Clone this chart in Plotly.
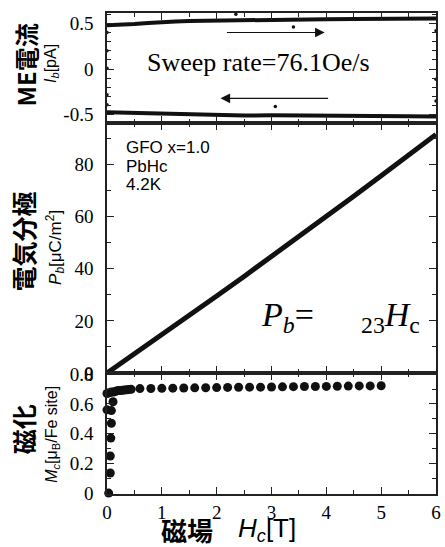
import plotly.graph_objects as go
from plotly.subplots import make_subplots

# ---- ME current I_b [pA] vs H_c [T] ----
h_sweep = [0.0, 0.25, 0.5, 0.75, 1.0, 1.25, 1.5, 2.0, 2.5, 3.0, 3.5, 4.0, 4.5, 5.0, 5.5, 6.0]
i_up = [0.478, 0.482, 0.492, 0.503, 0.514, 0.520, 0.525, 0.531, 0.536, 0.540, 0.543, 0.546, 0.548, 0.550, 0.551, 0.552]
i_down = [-0.473, -0.476, -0.480, -0.484, -0.488, -0.493, -0.499, -0.508, -0.507, -0.505, -0.509, -0.514, -0.515, -0.516, -0.516, -0.517]
h_stray = [2.35, 3.40, 3.07, 0.0, 0.0, 0.0, 0.0, 0.0, 6.0, 6.0, 6.0]
i_stray = [0.60, 0.46, -0.41, 0.40, 0.20, 0.01, -0.28, -0.39, 0.42, -0.11, -0.35]

# ---- Polarization P_b [uC/m^2] ----
h_pol = [0.0, 0.5, 1.0, 1.5, 2.0, 2.5, 3.0, 3.5, 4.0, 4.5, 5.0, 5.5, 6.0]
p_pol = [0.0, 7.28, 14.63, 22.03, 29.5, 37.03, 44.63, 52.28, 60.0, 67.78, 75.63, 83.53, 91.5]

# ---- Magnetization M_c [muB / Fe site] ----
h_mag = [0.03, 0.06, 0.06, 0.07, 0.08, 0.08, 0.0, 0.11,
         0.0, 0.04, 0.08, 0.12, 0.16, 0.20, 0.24, 0.28, 0.32, 0.36, 0.40, 0.44,
         0.6, 0.8, 1.0, 1.2, 1.4, 1.6, 1.8, 2.0, 2.2, 2.4, 2.6, 2.8, 3.0, 3.2,
         3.4, 3.6, 3.8, 4.0, 4.2, 4.4, 4.6, 4.8, 5.0]
m_mag = [0.0, 0.135, 0.25, 0.37, 0.47, 0.555, 0.56, 0.615,
         0.67, 0.675, 0.68, 0.68, 0.685, 0.69, 0.69, 0.692, 0.694, 0.695, 0.697, 0.698,
         0.703, 0.704, 0.705, 0.706, 0.707, 0.708, 0.709, 0.710, 0.711, 0.712, 0.713,
         0.713, 0.714, 0.715, 0.716, 0.717, 0.717, 0.718, 0.719, 0.720, 0.721, 0.721, 0.722]

x_ticks = [0, 1, 2, 3, 4, 5, 6]
i_ticks = [-0.5, 0, 0.5]
i_ticktext = ["-0.5", "0", "0.5"]
p_ticks = [0, 20, 40, 60, 80]
m_ticks = [0, 0.2, 0.4, 0.6, 0.8]
m_ticktext = ["0", "0.2", "0.4", "0.6", "0.8"]

W, H = 445, 547
ML, MR, MT, MB = 107, 4, 5, 53
PW, PH = W - ML - MR, H - MT - MB

fig = make_subplots(rows=3, cols=1, shared_xaxes=True, vertical_spacing=0,
                    row_heights=[112, 254, 123])

ink = "#111111"
fig.add_trace(go.Scatter(x=h_sweep, y=i_up, mode="lines",
                         line=dict(color=ink, width=4), cliponaxis=False), row=1, col=1)
fig.add_trace(go.Scatter(x=h_sweep, y=i_down, mode="lines",
                         line=dict(color=ink, width=4), cliponaxis=False), row=1, col=1)
fig.add_trace(go.Scatter(x=h_stray, y=i_stray, mode="markers",
                         marker=dict(color=ink, size=3.5), cliponaxis=False), row=1, col=1)
fig.add_trace(go.Scatter(x=h_pol, y=p_pol, mode="lines",
                         line=dict(color=ink, width=5), cliponaxis=False), row=2, col=1)
fig.add_trace(go.Scatter(x=h_mag, y=m_mag, mode="markers",
                         marker=dict(color=ink, size=9), cliponaxis=False), row=3, col=1)

serif = "Liberation Serif"
sans = "Liberation Sans"
cjk = "Noto Sans CJK JP"

axis_common = dict(showline=True, linecolor="#222222", linewidth=1.5, mirror="ticks",
                   ticks="inside", ticklen=7, tickwidth=1.2, tickcolor="#222222",
                   showgrid=False, zeroline=False,
                   tickfont=dict(family=serif, size=19, color="black"))

for r in (1, 2, 3):
    fig.update_xaxes(range=[0, 6], tickvals=x_ticks,
                     minor=dict(dtick=0.5, ticks="inside", ticklen=4, tickcolor="#222222"),
                     showticklabels=(r == 3), row=r, col=1, **axis_common)

fig.update_yaxes(range=[-0.591, 0.613], tickvals=i_ticks, ticktext=i_ticktext,
                 minor=dict(dtick=0.1, ticks="inside", ticklen=4, tickcolor="#222222"),
                 ticklabelstandoff=8, row=1, col=1, **axis_common)
fig.update_yaxes(range=[0, 95.8], tickvals=p_ticks,
                 minor=dict(dtick=10, ticks="inside", ticklen=4, tickcolor="#222222"),
                 ticklabelstandoff=8, row=2, col=1, **axis_common)
fig.update_yaxes(range=[-0.006, 0.808], tickvals=m_ticks, ticktext=m_ticktext,
                 minor=dict(dtick=0.1, ticks="inside", ticklen=4, tickcolor="#222222"),
                 ticklabelstandoff=8, row=3, col=1, **axis_common)


def px_x(px):
    return (px - ML) / PW


def px_y(py):
    return (H - MB - py) / PH


def side_label(text, px, py, size, family, angle=-90):
    fig.add_annotation(text=text, xref="paper", yref="paper", x=px_x(px), y=px_y(py),
                       xanchor="center", yanchor="middle", textangle=angle,
                       showarrow=False, font=dict(family=family, size=size, color="black"))


side_label("<b>ME電流</b>", 24, 58, 24, cjk)
side_label("<i>I</i><sub><i>b</i></sub>[pA]", 50, 56, 16, sans)
side_label("<b>電気分極</b>", 22, 237, 25, cjk)
side_label("<i>P</i><sub><i>b</i></sub>[μC/m<sup>2</sup>]", 54, 243, 17, sans)
side_label("<b>磁化</b>", 22, 428, 25, cjk)
side_label("<i>M</i><sub><i>c</i></sub>[μ<sub>B</sub>/Fe site]", 52, 433, 16, sans)
side_label("<b>磁場</b>", 188, 530, 26, cjk, angle=0)
fig.add_annotation(text="<i>H</i><sub><i>c</i></sub>[T]", xref="paper", yref="paper",
                   x=px_x(238), y=px_y(530), xanchor="left", yanchor="middle",
                   showarrow=False, font=dict(family=sans, size=26, color="black"))

# sweep-rate note and sweep-direction arrows
fig.add_annotation(text="Sweep rate=76.1Oe/s", x=2.77, y=0.07, xanchor="center",
                   yanchor="middle", showarrow=False,
                   font=dict(family=serif, size=26, color="black"), row=1, col=1)
fig.add_annotation(x=3.97, y=0.40, ax=2.16, ay=0.40, axref="x", ayref="y", text="",
                   showarrow=True, arrowhead=2, arrowsize=1.6, arrowwidth=1.2,
                   arrowcolor=ink, row=1, col=1)
fig.add_annotation(x=2.07, y=-0.32, ax=4.06, ay=-0.32, axref="x", ayref="y", text="",
                   showarrow=True, arrowhead=2, arrowsize=1.6, arrowwidth=1.2,
                   arrowcolor=ink, row=1, col=1)

# sample notes
for txt, yv in (("GFO x=1.0", 86.4), ("PbHc", 79.2), ("4.2K", 72.1)):
    fig.add_annotation(text=txt, x=0.305, y=yv, xanchor="left", yanchor="middle",
                       showarrow=False, font=dict(family=sans, size=17, color="black"),
                       row=2, col=1)

# P_b = a23 H_c relation
fig.add_annotation(text="<i>P</i><sub><i>b</i></sub>=", x=2.78, y=21.5, xanchor="left",
                   yanchor="middle", showarrow=False,
                   font=dict(family=serif, size=34, color="black"), row=2, col=1)
fig.add_annotation(text="<sub>23</sub><i>H</i><sub>c</sub>", x=4.6, y=21.5, xanchor="left",
                   yanchor="middle", showarrow=False,
                   font=dict(family=serif, size=34, color="black"), row=2, col=1)

fig.update_layout(width=W, height=H, margin=dict(l=ML, r=MR, t=MT, b=MB),
                  plot_bgcolor="white", paper_bgcolor="white", showlegend=False)

fig.write_html("out.html")
